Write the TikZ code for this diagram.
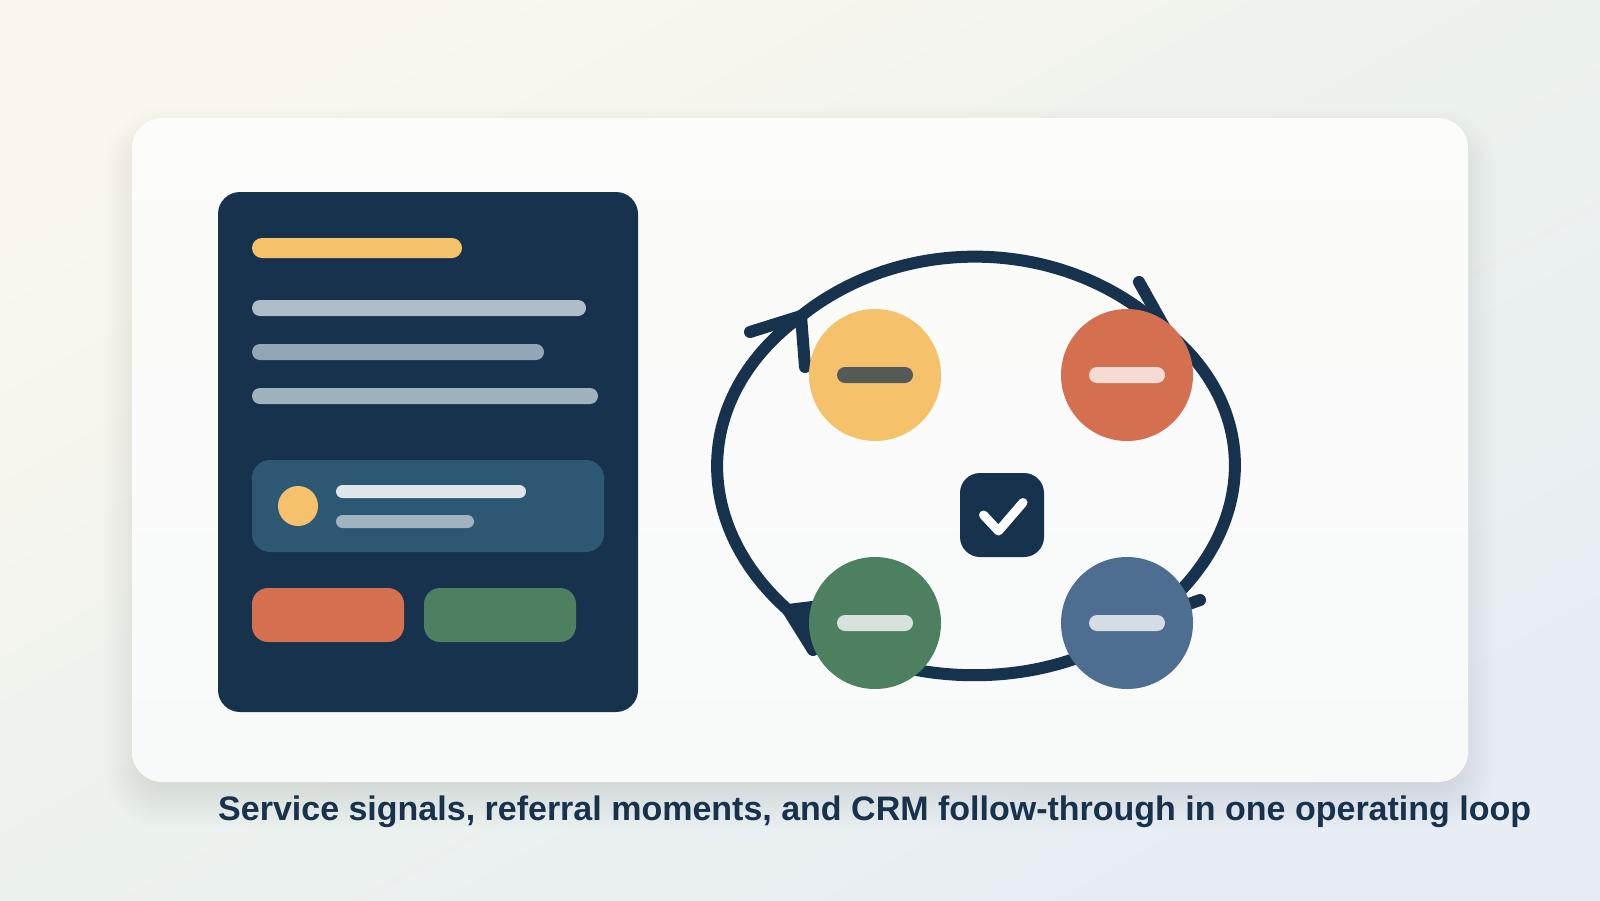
\documentclass[tikz,border=0pt]{standalone}
\usepackage{fontspec}
\usepackage{xcolor}
\setmainfont{Liberation Sans}
\usetikzlibrary{positioning}

\definecolor{navy}{HTML}{17324D}
\definecolor{sand}{HTML}{F5C26B}
\definecolor{clay}{HTML}{D4704F}
\definecolor{moss}{HTML}{4C8061}
\definecolor{slateblue}{HTML}{4D6E91}
\definecolor{teal}{HTML}{2D5874}
\definecolor{bgstart}{HTML}{FBF7EE}
\definecolor{bgmid}{HTML}{ECF2ED}
\definecolor{bgend}{HTML}{E8EDF5}
\definecolor{cardtop}{HTML}{FCFCFA}
\definecolor{cardend}{HTML}{F8FAFA}

\tikzset{
    bar/.style={fill=#1, rounded corners=8},
    stage/.style={circle, minimum size=132, inner sep=0, fill=#1},
    dash/.style={rectangle, minimum width=76, minimum height=16, inner sep=0, rounded corners=8, fill=#1},
    loopline/.style={draw=navy, line width=12, line cap=round, miter limit=10},
}

\begin{document}
\begin{tikzpicture}[x=1pt, y=-1pt]
    \useasboundingbox (0,0) rectangle (1600,900);
    \shade[top color=bgstart, bottom color=bgend, middle color=bgmid, shading angle=29.36] (0,0) rectangle (1600,900);

    % card and its shadow
    \foreach \s in {-28,-24,...,28}
        \fill[navy, opacity=0.0075, rounded corners=32+\s] (132-\s, 118+18-\s) rectangle (1468+\s, 782+18+\s);
    \shade[top color=cardtop, bottom color=cardend, rounded corners=30] (132,118) rectangle (1468,782);

    % left panel
    \fill[navy, rounded corners=22] (218,192) rectangle (638,712);
    \fill[sand, rounded corners=10] (252,238) rectangle (462,258);
    \foreach \xend/\ya/\barcol in {586/300/AEBDC9, 544/344/94A6B5, 598/388/A1B1BE} {
        \definecolor{barcol}{HTML}{\barcol}
        \fill[bar=barcol] (252,\ya) rectangle (\xend,\ya+16);
    }
    \fill[teal, rounded corners=18] (252,460) rectangle (604,552);
    \fill[sand] (298,506) circle (20);
    \fill[fill=white!85!teal, rounded corners=6.5] (336,485) rectangle (526,498);
    \fill[fill=white!55!teal, rounded corners=6.5] (336,515) rectangle (474,528);
    \fill[clay, rounded corners=16] (252,588) rectangle (404,642);
    \fill[moss, rounded corners=16] (424,588) rectangle (576,642);

    % loop, one arc per stage
    \coordinate (tipa) at (801,316);
    \coordinate (tipb) at (1167,332);
    \coordinate (tipc) at (1150,618);
    \coordinate (tipd) at (788,610);
    \draw[loopline] (tipa) .. controls (906,232) and (1069,237) .. (tipb);
    \draw[loopline] (tipb) .. controls (1264,412) and (1256,537) .. (tipc);
    \draw[loopline] (tipc) .. controls (1050,698) and (881,693) .. (tipd);
    \draw[loopline] (tipd) .. controls (689,522) and (694,394) .. (tipa);
    \draw[loopline] (750,332) -- (tipa) -- (805,367);
    \draw[loopline] (1139,282) -- (tipb) -- (1110,340);
    \draw[loopline] (1200,600) -- (tipc) -- (1150,575);
    \draw[loopline] (813,650) -- (tipd) -- (845,603);
    \draw[loopline] (tipd) -- (815,621);

    % stages
    \node[stage=sand] (signal) at (875,375) {};
    \node[stage=clay] (referral) at (1127,375) {};
    \node[stage=moss] (crm) at (875,623) {};
    \node[stage=slateblue] (follow) at (1127,623) {};
    \definecolor{dashdark}{HTML}{535A58}
    \node[dash=dashdark] at (signal) {};
    \node[dash=white!75!clay] at (referral) {};
    \node[dash=white!77!moss] at (crm) {};
    \node[dash=white!76!slateblue] at (follow) {};

    % check in the middle
    \fill[navy, rounded corners=20] (960,473) rectangle (1044,557);
    \draw[white, line width=9, line cap=round, line join=round] (983.5,515) -- (998.5,531) -- (1023,502.5);

    \node[anchor=base west, inner sep=0, text=navy] (caption) at (218,820)
        {\fontsize{34}{40}\selectfont\bfseries Service signals, referral moments, and CRM follow-through in one operating loop};
\end{tikzpicture}
\end{document}
